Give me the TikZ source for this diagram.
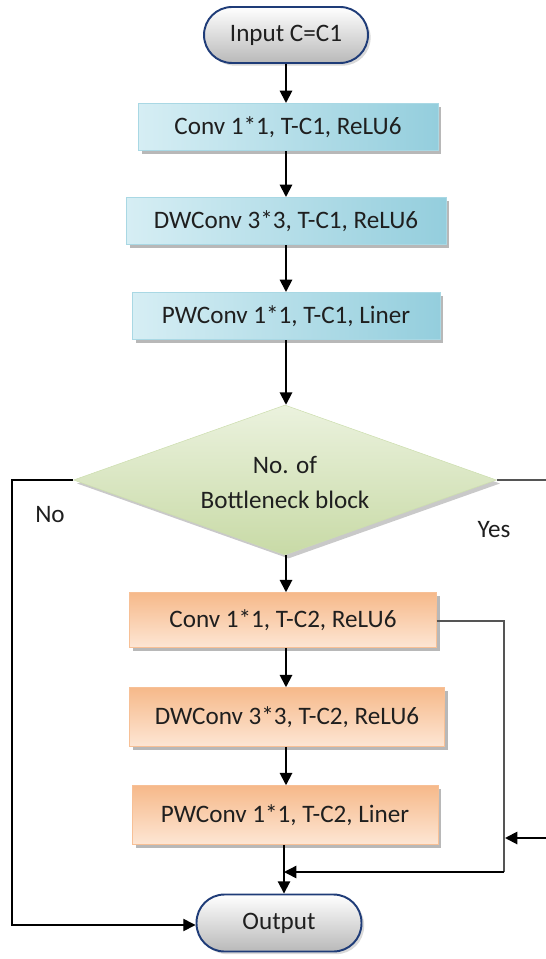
\documentclass[tikz,border=0pt]{standalone}
\usepackage{fontspec}
\setmainfont{Carlito}
\usetikzlibrary{shapes.geometric,shadows,arrows.meta}
\definecolor{bluelight}{HTML}{D6EEF4}
\definecolor{bluedark}{HTML}{94CEDD}
\definecolor{orangedark}{HTML}{F6B98A}
\definecolor{orangelight}{HTML}{FDE6D4}
\definecolor{greenlight}{HTML}{EBF2DE}
\definecolor{greendark}{HTML}{C8DAA6}
\definecolor{termborder}{HTML}{1F3C78}
\definecolor{loopgray}{HTML}{555555}
\tikzset{
  every node/.style={font=\fontsize{14.3}{17}\selectfont, text=black!88},
  bluebox/.style={rectangle, left color=bluelight, right color=bluedark,
    draw=bluedark!80!white, line width=0.3pt, minimum height=0.95cm,
    drop shadow={shadow xshift=2pt, shadow yshift=-2pt, fill=gray!70, opacity=0.8}},
  orangebox/.style={rectangle, top color=orangedark, bottom color=orangelight,
    draw=orangedark!90!white, line width=0.3pt, minimum height=1.15cm,
    drop shadow={shadow xshift=2pt, shadow yshift=-2pt, fill=gray!70, opacity=0.8}},
  terminal/.style={rectangle, rounded corners=0.56cm, top color=white,
    bottom color=gray!55, draw=termborder, line width=1.1pt,
    minimum width=3.28cm, minimum height=1.12cm,
    drop shadow={shadow xshift=1.5pt, shadow yshift=-1.5pt, fill=gray!50, opacity=0.6}},
  decision/.style={diamond, top color=greenlight, bottom color=greendark,
    draw=greendark!90!white, line width=0.3pt, inner sep=0pt,
    minimum width=8.46cm, minimum height=3.0cm, align=center,
    drop shadow={shadow xshift=2pt, shadow yshift=-2pt, fill=gray!60, opacity=0.7}},
  flow/.style={line width=1.1pt, -{Triangle[length=7pt,width=7pt]}},
  loopline/.style={line width=0.7pt, draw=loopgray},
  branchlabel/.style={fill=white, inner sep=3pt}
}
\begin{document}
\begin{tikzpicture}[x=0.02cm, y=-0.02cm]
\useasboundingbox (0,0) rectangle (546,959);

% main column
\node[terminal] (input) at (286,35) {Input C=C1};
\node[bluebox, minimum width=6.0cm] (b1) at (288,127) {Conv 1*1, T-C1, ReLU6};
\node[bluebox, minimum width=6.4cm] (b2) at (286,221) {DWConv 3*3, T-C1, ReLU6};
\node[bluebox, minimum width=6.16cm] (b3) at (286,316) {PWConv 1*1, T-C1, Liner};
\node[decision] (dec) at (285,480) {};
\node at (285,465) {No. of};
\node at (285,500) {Bottleneck block};
\node[orangebox, minimum width=6.14cm, minimum height=1.1cm] (c1) at (283,620) {Conv 1*1, T-C2, ReLU6};
\node[orangebox, minimum width=6.3cm, minimum height=1.18cm] (c2) at (287,717) {DWConv 3*3, T-C2, ReLU6};
\node[orangebox, minimum width=6.12cm, minimum height=1.18cm] (c3) at (285,815) {PWConv 1*1, T-C2, Liner};
\node[terminal, minimum width=3.3cm, minimum height=1.14cm] (out) at (279,923) {Output};

% branch labels
\node[branchlabel] (nolab) at (50,515) {No};
\node[branchlabel] (yeslab) at (494,530) {Yes};

% straight flow
\draw[flow] (input.south -| 286,0) -- (b1.north -| 286,0);
\draw[flow] (b1.south -| 286,0) -- (b2.north -| 286,0);
\draw[flow] (b2.south -| 286,0) -- (b3.north -| 286,0);
\draw[flow] (b3.south -| 286,0) -- (dec.north -| 286,0);
\draw[flow] (dec.south -| 286,0) -- (c1.north -| 286,0);
\draw[flow] (c1.south -| 286,0) -- (c2.north -| 286,0);
\draw[flow] (c2.south -| 286,0) -- (c3.north -| 286,0);
\coordinate (merge) at (284,872);
\draw[flow] (c3.south -| 284,0) -- (out.north -| 284,0);

% "No" branch straight to the output
\coordinate (noc1) at (12,480);
\coordinate (noc2) at (12,925);
\draw[line width=0.8pt, -{Triangle[length=7pt,width=7pt]}]
  (dec.west) -- (noc1) -- (noc2) -- (out.west |- noc2);

% "Yes" branch leaves to the right
\coordinate (yesend) at (546,480);
\draw[loopline] (dec.east) -- (yesend);

% skip connection around the orange blocks
\coordinate (skipr) at (504,621);
\coordinate (skipb) at (504,872);
\draw[loopline] (c1.east |- skipr) -- (skipr) -- (skipb);
\draw[line width=0.8pt, -{Triangle[length=7pt,width=7pt]}] (skipb) -- (merge);

% incoming connector from the right
\coordinate (inr) at (546,838);
\coordinate (inl) at (505,838);
\draw[line width=1.1pt, -{Triangle[length=7pt,width=7pt]}] (inr) -- (inl);
\end{tikzpicture}
\end{document}
